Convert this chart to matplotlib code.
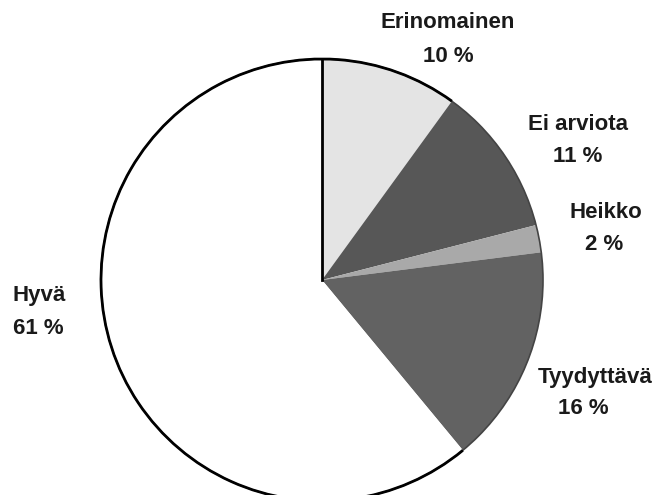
import matplotlib.pyplot as plt
from matplotlib.patches import Circle, Arc

# Arvosanojen jakauma (%)
labels = ['Erinomainen', 'Ei arviota', 'Heikko', 'Tyydyttävä', 'Hyvä']
shares = [10, 11, 2, 16, 61]
colors = ['#e4e4e4', '#575757', '#a9a9a9', '#626262', '#ffffff']

# label anchor points (pixels from top-left)
label_pos = [(448, 23), (578, 124), (606, 213), (595, 378), (39, 296)]
pct_pos = [(448, 56), (578, 156), (604, 244), (583, 409), (38, 328)]

W, H = 656, 495
fig = plt.figure(figsize=(W / 100, H / 100), dpi=100)
ax = fig.add_axes([0, 0, 1, 1])

cx, cy, r = 322, H - 280, 221
wedges, _ = ax.pie(shares, colors=colors, startangle=90, counterclock=False,
                   center=(cx, cy), radius=r, frame=True,
                   wedgeprops=dict(linewidth=0))
ax.set_xlim(0, W)
ax.set_ylim(0, H)
ax.set_aspect('equal')
ax.axis('off')

# thin grey rim around the dark slices, black rim on the light ones
ax.add_patch(Circle((cx, cy), r, fill=False, edgecolor='#444444', linewidth=1.2))
end_dark = 90 - 360 * sum(shares[:4]) / 100
end_light = 90 - 360 * shares[0] / 100
ax.add_patch(Arc((cx, cy), 2 * r, 2 * r, theta1=end_light, theta2=end_dark + 360,
                 edgecolor='black', linewidth=2))
ax.plot([cx, cx], [cy, cy + r], color='black', linewidth=2)

font = dict(family=['Liberation Sans', 'DejaVu Sans'], fontsize=16,
            fontweight='bold', color='#1a1a1a', ha='center', va='center')
for name, val, (lx, ly), (px, py) in zip(labels, shares, label_pos, pct_pos):
    ax.text(lx, H - ly, name, **font)
    ax.text(px, H - py, f'{val} %', **font)

fig.savefig('out.png', dpi=100)
